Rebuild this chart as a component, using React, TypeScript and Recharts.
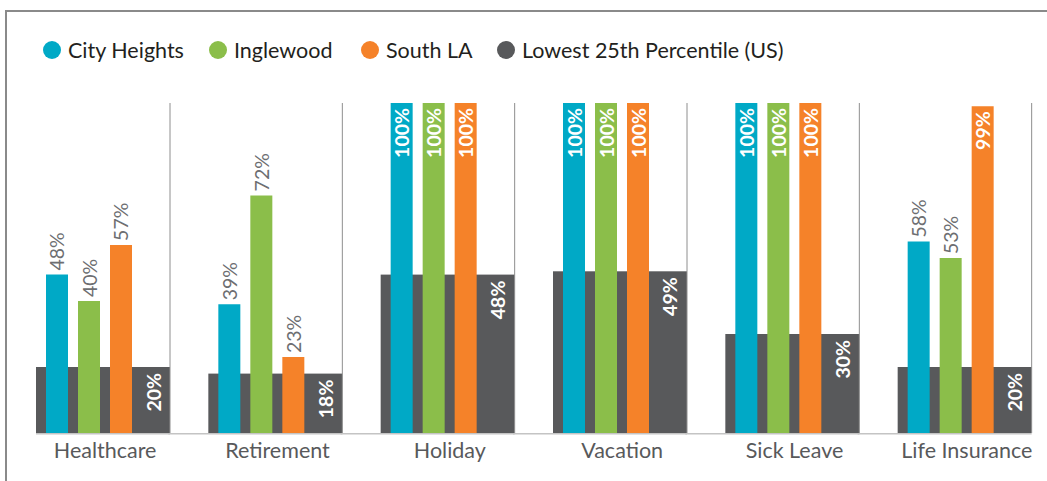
import { Bar, BarChart, LabelList, XAxis, YAxis } from "recharts";

const categories = ["Healthcare", "Retirement", "Holiday", "Vacation", "Sick Leave", "Life Insurance"];
const cityHeights = [48, 39, 100, 100, 100, 58];
const inglewood = [40, 72, 100, 100, 100, 53];
const southLA = [57, 23, 100, 100, 100, 99];
const lowest25 = [20, 18, 48, 49, 30, 20];

const TEAL = "#00A9C6";
const GREEN = "#8BBE4A";
const ORANGE = "#F58229";
const GREY = "#58595B";
const FONT = "Lato, 'Open Sans', sans-serif";

const data = categories.map((category, i) => ({
  category,
  cityHeights: cityHeights[i],
  inglewood: inglewood[i],
  southLA: southLA[i],
  lowest: lowest25[i],
}));

const legendItems = [
  { label: "City Heights", color: TEAL, cx: 52 },
  { label: "Inglewood", color: GREEN, cx: 218 },
  { label: "South LA", color: ORANGE, cx: 370 },
  { label: "Lowest 25th Percentile (US)", color: GREY, cx: 506 },
];

// wide grey block behind each group, plus the group separator and baseline
const GreyBlock = (props: any) => {
  const { x, y, width, height, index, payload } = props;
  const left = x - 2;
  const right = left + width;
  const bottom = y + height;
  const top100 = bottom - (height * 100) / payload.lowest;
  return (
    <g>
      <rect x={left} y={y} width={width} height={height} fill={GREY} />
      <line x1={right} x2={right} y1={top100} y2={bottom} stroke="#8e8e8e" strokeWidth={1} />
      <line
        x1={index === 0 ? left : left - 40}
        x2={right}
        y1={bottom + 0.75}
        y2={bottom + 0.75}
        stroke="#c4c4c4"
        strokeWidth={1.5}
      />
    </g>
  );
};

const ValueLabel = (props: any) => {
  const { x, y, width, value } = props;
  const cx = x + width / 2;
  const inside = value >= 99;
  const ay = inside ? y + 5 : y - 4;
  return (
    <text
      x={cx}
      y={ay}
      transform={`rotate(-90, ${cx}, ${ay})`}
      textAnchor={inside ? "end" : "start"}
      dominantBaseline="central"
      fill={inside ? "#fff" : "#6D6E71"}
      fontWeight={inside ? 700 : 400}
      fontSize={19.5}
      fontFamily={FONT}
    >
      {`${value}%`}
    </text>
  );
};

const GreyLabel = (props: any) => {
  const { x, y, width, value } = props;
  const cx = x + width / 2;
  const ay = y + 6;
  return (
    <text
      x={cx}
      y={ay}
      transform={`rotate(-90, ${cx}, ${ay})`}
      textAnchor="end"
      dominantBaseline="central"
      fill="#fff"
      fontWeight={700}
      fontSize={19.5}
      fontFamily={FONT}
    >
      {`${value}%`}
    </text>
  );
};

const CategoryTick = (props: any) => {
  const { x, payload } = props;
  return (
    <text x={x} y={450} textAnchor="middle" dominantBaseline="central" fill="#58595B" fontSize={21.5} fontFamily={FONT}>
      {payload.value}
    </text>
  );
};

export default function App() {
  return (
    <div
      style={{
        position: "fixed",
        left: 0,
        top: 0,
        width: 1047,
        height: 481,
        overflow: "hidden",
        background: "#fff",
        fontFamily: FONT,
      }}
    >
      <div
        style={{
          position: "absolute",
          left: 5,
          top: 10,
          width: 1200,
          height: 600,
          borderLeft: "2px solid #8a8a8a",
          borderTop: "2px solid #8a8a8a",
        }}
      />
      {legendItems.map((item) => (
        <div
          key={item.label}
          style={{
            position: "absolute",
            left: item.cx - 9,
            top: 41,
            height: 18,
            display: "flex",
            alignItems: "center",
            gap: 7,
            whiteSpace: "nowrap",
          }}
        >
          <span style={{ width: 18, height: 18, borderRadius: 9, background: item.color, display: "inline-block" }} />
          <span style={{ fontSize: 21.5, color: "#231F20", lineHeight: "18px" }}>{item.label}</span>
        </div>
      ))}
      <BarChart
        width={1060}
        height={481}
        data={data}
        margin={{ top: 103, right: 7, left: 19, bottom: 0 }}
        barGap={10}
        style={{ position: "absolute", left: 0, top: 0 }}
      >
        <XAxis xAxisId="bg" dataKey="category" hide />
        <XAxis
          xAxisId="main"
          dataKey="category"
          height={48}
          axisLine={false}
          tickLine={false}
          tickSize={0}
          tickMargin={0}
          tick={<CategoryTick />}
          interval={0}
        />
        <YAxis hide type="number" domain={[0, 100]} />
        <Bar xAxisId="bg" dataKey="lowest" barSize={134} fill={GREY} shape={<GreyBlock />} isAnimationActive={false} />
        <Bar xAxisId="main" dataKey="cityHeights" barSize={22} fill={TEAL} isAnimationActive={false}>
          <LabelList dataKey="cityHeights" content={<ValueLabel />} />
        </Bar>
        <Bar xAxisId="main" dataKey="inglewood" barSize={22} fill={GREEN} isAnimationActive={false}>
          <LabelList dataKey="inglewood" content={<ValueLabel />} />
        </Bar>
        <Bar xAxisId="main" dataKey="southLA" barSize={22} fill={ORANGE} isAnimationActive={false}>
          <LabelList dataKey="southLA" content={<ValueLabel />} />
        </Bar>
        <Bar xAxisId="main" dataKey="lowest" barSize={22} fill="none" isAnimationActive={false}>
          <LabelList dataKey="lowest" content={<GreyLabel />} />
        </Bar>
      </BarChart>
    </div>
  );
}
